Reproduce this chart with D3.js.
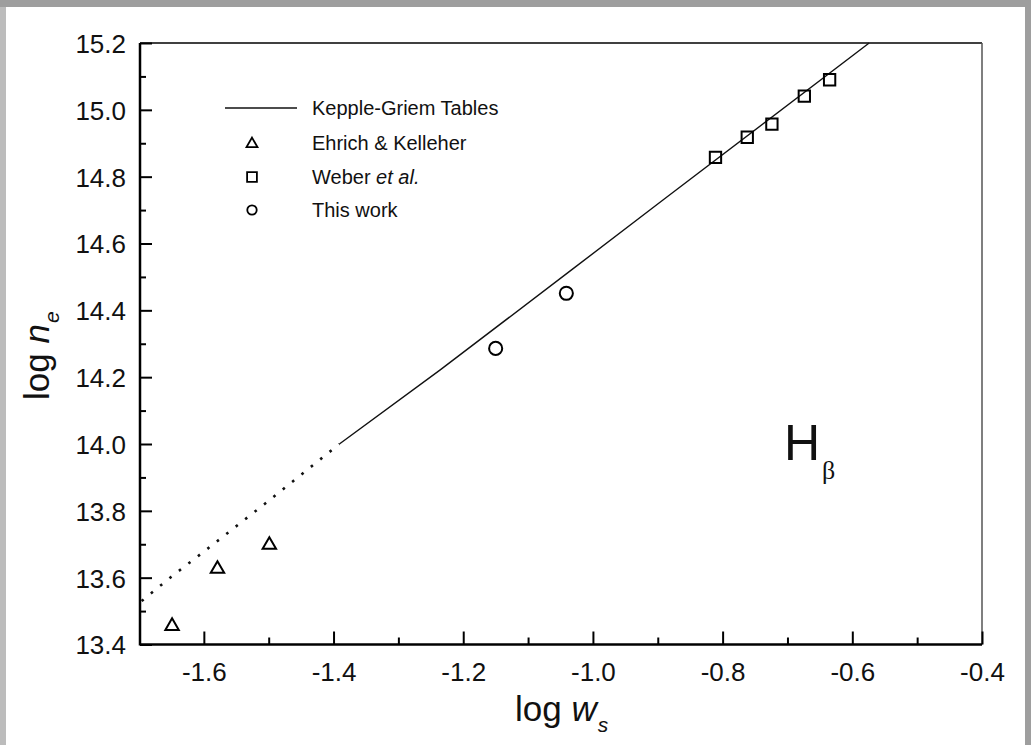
<!DOCTYPE html>
<html>
<head>
<meta charset="utf-8">
<script src="https://cdn.jsdelivr.net/npm/d3@7"></script>
<style>
  html, body { margin: 0; padding: 0; background: #9e9e9e; }
  svg { display: block; }
  text { font-family: "Liberation Sans", Arial, Helvetica, sans-serif; fill: #111; }
</style>
</head>
<body>
<svg id="chart" width="1031" height="745"></svg>
<script>
// ---- data ----
const xTicks = [-1.6, -1.4, -1.2, -1.0, -0.8, -0.6, -0.4];
const xMinor = [-1.5, -1.3, -1.1, -0.9, -0.7, -0.5];
const yTicks = [13.4, 13.6, 13.8, 14.0, 14.2, 14.4, 14.6, 14.8, 15.0, 15.2];
const yMinor = [13.5, 13.7, 13.9, 14.1, 14.3, 14.5, 14.7, 14.9, 15.1];

// Kepple-Griem tables (solid) and its extrapolation (dotted)
const kgSolidX = [-1.391, -1.236, -1.033, -0.892, -0.574];
const kgSolidY = [14.0, 14.221, 14.521, 14.730, 15.2];
const kgDotX = [-1.696, -1.650, -1.592, -1.504, -1.391];
const kgDotY = [13.530, 13.603, 13.690, 13.824, 14.0];

// Ehrich & Kelleher (triangles)
const ekX = [-1.649, -1.579, -1.499];
const ekY = [13.455, 13.626, 13.698];
// Weber et al. (squares)
const weX = [-0.811, -0.762, -0.724, -0.674, -0.635];
const weY = [14.858, 14.918, 14.957, 15.041, 15.090];
// This work (circles)
const twX = [-1.150, -1.041];
const twY = [14.286, 14.451];

const legendLabels = ["Kepple-Griem Tables", "Ehrich & Kelleher", "Weber et al.", "This work"];

// ---- layout ----
const svg = d3.select("#chart");
svg.append("rect").attr("x", 0).attr("y", 0).attr("width", 1031).attr("height", 745).attr("fill", "#9e9e9e");
svg.append("rect").attr("x", 0).attr("y", 7).attr("width", 6).attr("height", 738).attr("fill", "#bcbcbc");
svg.append("rect").attr("x", 6).attr("y", 7).attr("width", 1019).attr("height", 738).attr("fill", "#ffffff");

const L = 140, R = 982, T = 43, B = 644.5;
const x = d3.scaleLinear().domain([-1.7, -0.4]).range([139, 982]);
const y = d3.scaleLinear().domain([13.4, 15.2]).range([B, T]);
const fmt = d => d3.format(".1f")(d).replace("\u2212", "-");

// frame: top and right thin
svg.append("line").attr("x1", L).attr("x2", R).attr("y1", T).attr("y2", T)
  .attr("stroke", "#000").attr("stroke-width", 1.3);
svg.append("line").attr("x1", R).attr("x2", R).attr("y1", T).attr("y2", B)
  .attr("stroke", "#555").attr("stroke-width", 1.5);

// x axis (bottom) with inward ticks
const gxMinor = svg.append("g").attr("transform", `translate(0,${B})`)
  .call(d3.axisBottom(x).tickValues(xMinor).tickSize(-7).tickFormat(""));
gxMinor.select(".domain").remove();
gxMinor.selectAll(".tick line").attr("stroke", "#000").attr("stroke-width", 2);

const gx = svg.append("g").attr("transform", `translate(0,${B})`)
  .call(d3.axisBottom(x).tickValues(xTicks).tickSize(-13).tickPadding(0).tickFormat(fmt));
gx.select(".domain").attr("stroke", "#000").attr("stroke-width", 2.5)
  .attr("d", `M${L},0H${R}`);
gx.selectAll(".tick line").attr("stroke", "#000").attr("stroke-width", 2);
gx.selectAll(".tick text").attr("y", 36).attr("dy", 0)
  .style("font-size", "26px").style("font-family", "Liberation Sans, Arial, sans-serif").attr("fill", "#111");

// y axis (left) with inward ticks
const gyMinor = svg.append("g").attr("transform", `translate(${L},0)`)
  .call(d3.axisLeft(y).tickValues(yMinor).tickSize(-6).tickFormat(""));
gyMinor.select(".domain").remove();
gyMinor.selectAll(".tick line").attr("stroke", "#000").attr("stroke-width", 2);

const gy = svg.append("g").attr("transform", `translate(${L},0)`)
  .call(d3.axisLeft(y).tickValues(yTicks).tickSize(-12).tickPadding(0).tickFormat(fmt));
gy.select(".domain").attr("stroke", "#000").attr("stroke-width", 2.5)
  .attr("d", `M0,${T}V${B + 1}`);
gy.selectAll(".tick line").attr("stroke", "#000").attr("stroke-width", 2);
gy.selectAll(".tick text").attr("x", -14).attr("dy", "0.36em")
  .style("font-size", "26px").style("font-family", "Liberation Sans, Arial, sans-serif").attr("fill", "#111");

// axis titles
const xt = svg.append("text").attr("x", 515).attr("y", 721).style("font-size", "35px");
xt.append("tspan").text("log ");
xt.append("tspan").style("font-style", "italic").text("w");
xt.append("tspan").style("font-style", "italic").style("font-size", "21px").attr("dy", 11).attr("dx", 1).text("s");

const yt = svg.append("text").attr("transform", "translate(49,400) rotate(-90)").style("font-size", "35px");
yt.append("tspan").text("log ");
yt.append("tspan").style("font-style", "italic").text("n");
yt.append("tspan").style("font-style", "italic").style("font-size", "21px").attr("dy", 10).attr("dx", 1).text("e");

// lines
const lineGen = d3.line().x(d => x(d[0])).y(d => y(d[1]));
svg.append("path").datum(kgSolidX.map((v, i) => [v, kgSolidY[i]]))
  .attr("d", lineGen).attr("fill", "none").attr("stroke", "#111").attr("stroke-width", 1.4);
svg.append("path").datum(kgDotX.map((v, i) => [v, kgDotY[i]]))
  .attr("d", lineGen).attr("fill", "none").attr("stroke", "#111").attr("stroke-width", 2.6)
  .attr("stroke-dasharray", "2.6,9.4");

// markers
function drawPoints(xs, ys, type, size) {
  const sym = d3.symbol().type(type).size(size);
  svg.append("g").selectAll("path").data(xs.map((v, i) => [v, ys[i]])).join("path")
    .attr("transform", d => `translate(${x(d[0])},${y(d[1])})`)
    .attr("d", sym).attr("fill", "none").attr("stroke", "#000").attr("stroke-width", 2);
}
drawPoints(ekX, ekY, d3.symbolTriangle, 78);
drawPoints(weX, weY, d3.symbolSquare, 128);
drawPoints(twX, twY, d3.symbolCircle, 135);

// legend
const legY = [108, 143, 177, 210];
svg.append("line").attr("x1", 225).attr("x2", 297).attr("y1", legY[0]).attr("y2", legY[0])
  .attr("stroke", "#111").attr("stroke-width", 1.3);
const legSyms = [null, [d3.symbolTriangle, 52], [d3.symbolSquare, 96], [d3.symbolCircle, 70]];
legSyms.forEach((s, i) => {
  if (!s) return;
  svg.append("path").attr("transform", `translate(252,${legY[i] + (i === 1 ? 1 : 0)})`)
    .attr("d", d3.symbol().type(s[0]).size(s[1])).attr("fill", "none").attr("stroke", "#000").attr("stroke-width", 1.8);
});
legendLabels.forEach((lab, i) => {
  const t = svg.append("text").attr("x", 312).attr("y", legY[i] + 7).style("font-size", "20px");
  if (lab === "Weber et al.") {
    t.append("tspan").text("Weber ");
    t.append("tspan").style("font-style", "italic").text("et al.");
  } else {
    t.text(lab);
  }
});

// H-beta annotation
const hb = svg.append("text").attr("x", 784).attr("y", 460).style("font-size", "50px");
hb.append("tspan").text("H");
hb.append("tspan").style("font-family", "Liberation Serif, Times New Roman, serif")
  .style("font-size", "26px").attr("dy", 19).attr("dx", 2).text("β");
</script>
</body>
</html>
